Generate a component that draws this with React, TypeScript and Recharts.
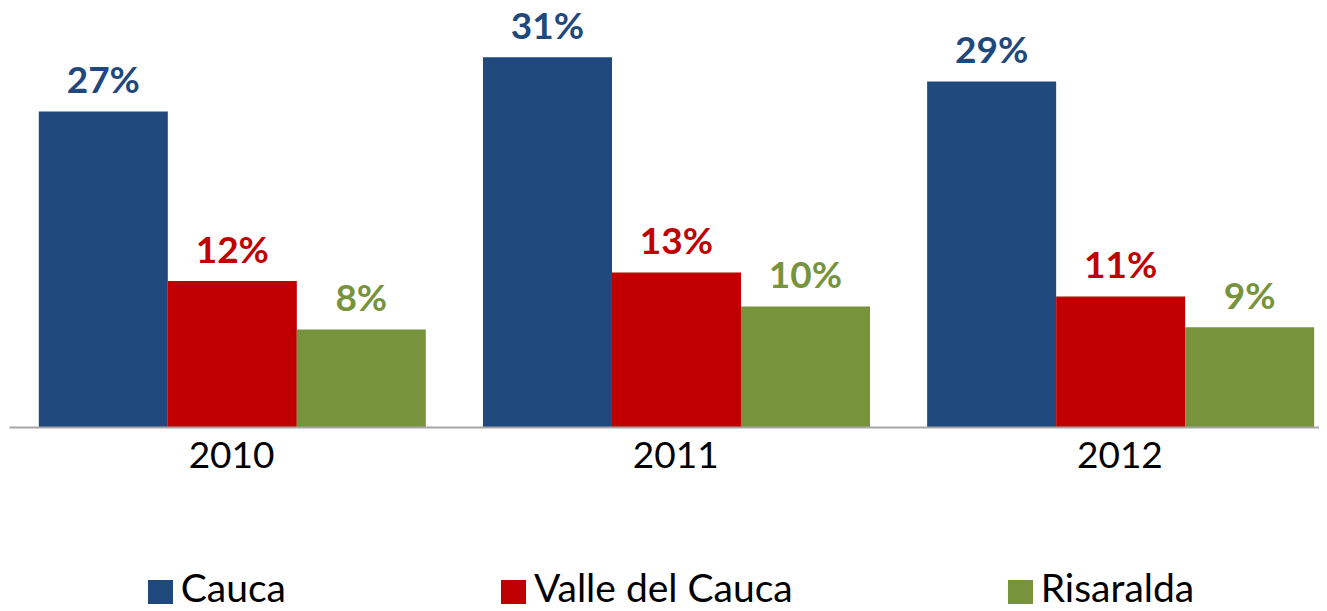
import React from "react";
import { BarChart, Bar, XAxis, YAxis, Legend, LabelList } from "recharts";

const years = ["2010", "2011", "2012"];
const cauca = [26.85, 31.45, 29.4];
const valle = [12.45, 13.17, 11.13];
const risaralda = [8.33, 10.28, 8.52];

const seriesNames = ["Cauca", "Valle del Cauca", "Risaralda"];
const seriesColors = ["#1F497D", "#C00000", "#77933C"];

const data = years.map((y, i) => ({
  year: y,
  Cauca: cauca[i],
  "Valle del Cauca": valle[i],
  Risaralda: risaralda[i],
}));

const fmt = (v: any) => `${Math.round(Number(v))}%`;

const LegendContent = () => (
  <div
    style={{
      display: "flex",
      justifyContent: "center",
      alignItems: "center",
      gap: 215,
      height: 47,
      lineHeight: "47px",
      fontFamily: "Lato",
      fontSize: 39,
      color: "#000",
      whiteSpace: "nowrap",
    }}
  >
    {seriesNames.map((n, i) => (
      <div key={n} style={{ display: "flex", alignItems: "center" }}>
        <div style={{ width: 25, height: 24, background: seriesColors[i], marginRight: 8, marginTop: 9 }} />
        <span>{n}</span>
      </div>
    ))}
  </div>
);

export default function App() {
  return (
    <div style={{ width: 1319, height: 611, marginTop: -8, overflow: "hidden" }}>
      <BarChart
        width={1334}
        height={611}
        data={data}
        margin={{ top: 15.5, right: 0, left: 1.5, bottom: 0 }}
        barCategoryGap="6.6%"
        barGap={0}
        style={{ fontFamily: "Lato" }}
      >
        <XAxis
          dataKey="year"
          height={136.5}
          tickLine={false}
          tickSize={0}
          tickMargin={14}
          axisLine={{ stroke: "#A6A6A6", strokeWidth: 2 }}
          tick={{ fill: "#000", fontSize: 37, fontFamily: "Lato" }}
        />
        <YAxis hide domain={[0, 35]} />
        <Legend
          verticalAlign="bottom"
          content={<LegendContent />}
          wrapperStyle={{ left: 0, width: 1326 }}
        />
        {seriesNames.map((n, i) => (
          <Bar key={n} dataKey={n} fill={seriesColors[i]} isAnimationActive={false}>
            <LabelList
              dataKey={n}
              position="top"
              offset={18}
              formatter={fmt}
              style={{ fill: seriesColors[i], fontSize: 37, fontWeight: 700, fontFamily: "Lato" }}
            />
          </Bar>
        ))}
      </BarChart>
    </div>
  );
}
